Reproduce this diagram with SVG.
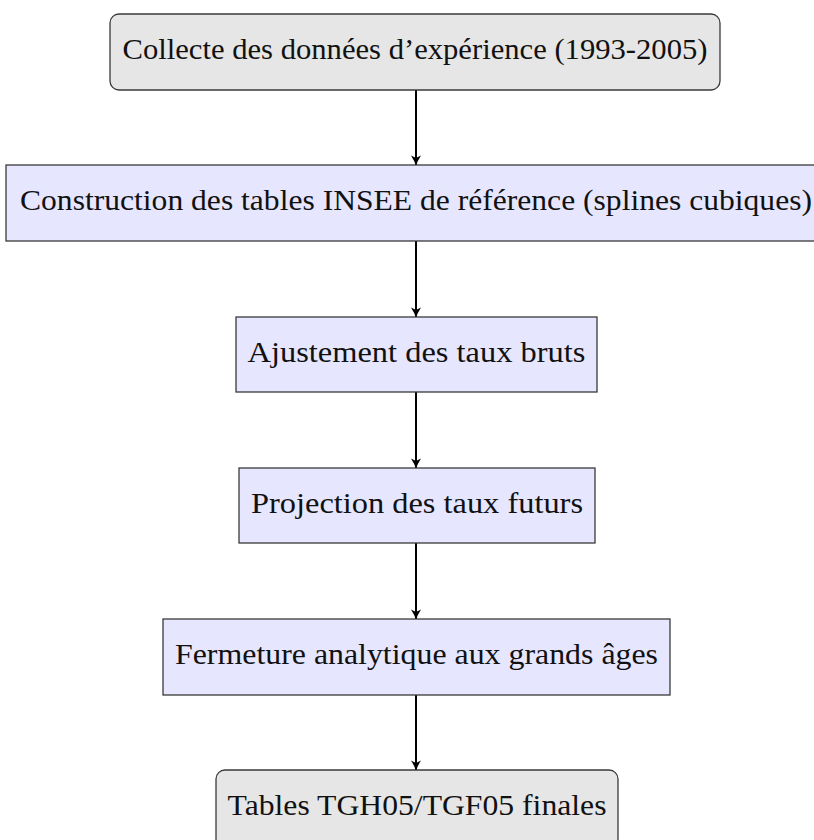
<svg xmlns="http://www.w3.org/2000/svg" width="814" height="840" viewBox="0 0 814 840">
<style>
.n rect{stroke:#3a3a3a;stroke-width:1.3}
.g{fill:#e6e6e6}
.b{fill:#e6e6ff}
text{font-family:"Liberation Serif","Times New Roman",serif;font-size:29px;fill:#111;text-anchor:middle}
.c line{stroke:#000;stroke-width:2;marker-end:url(#ah)}
</style>
<defs>
<marker id="ah" markerWidth="12" markerHeight="12" viewBox="0 0 12 12" refX="10" refY="6" orient="auto" markerUnits="userSpaceOnUse">
<path d="M0.5,1 Q6,4.5 10.5,6 Q6,7.5 0.5,11 L3,6 Z" fill="#000"/>
</marker>
</defs>
<rect width="814" height="840" fill="#fff"/>
<g class="c">
<line x1="416" y1="90" x2="416" y2="165"/>
<line x1="416" y1="241" x2="416" y2="317"/>
<line x1="416" y1="392" x2="416" y2="468"/>
<line x1="416" y1="543" x2="416" y2="619"/>
<line x1="416" y1="695" x2="416" y2="770"/>
</g>
<g id="n1" class="n"><rect class="g" x="110" y="14" width="610" height="76" rx="9"/><text font-family="Liberation Serif, serif" x="415" y="59" textLength="585" lengthAdjust="spacingAndGlyphs">Collecte des données d’expérience (1993-2005)</text></g>
<g id="n2" class="n"><rect class="b" x="6" y="165" width="820" height="76"/><text font-family="Liberation Serif, serif" x="416" y="210" textLength="792" lengthAdjust="spacingAndGlyphs">Construction des tables INSEE de référence (splines cubiques)</text></g>
<g id="n3" class="n"><rect class="b" x="236" y="317" width="361" height="75"/><text font-family="Liberation Serif, serif" x="416.5" y="362" textLength="338" lengthAdjust="spacingAndGlyphs">Ajustement des taux bruts</text></g>
<g id="n4" class="n"><rect class="b" x="239" y="468" width="356" height="75"/><text font-family="Liberation Serif, serif" x="417" y="513" textLength="332" lengthAdjust="spacingAndGlyphs">Projection des taux futurs</text></g>
<g id="n5" class="n"><rect class="b" x="163" y="619" width="507" height="76"/><text font-family="Liberation Serif, serif" x="416.5" y="664" textLength="483" lengthAdjust="spacingAndGlyphs">Fermeture analytique aux grands âges</text></g>
<g id="n6" class="n"><rect class="g" x="216" y="770" width="402" height="78" rx="9"/><text font-family="Liberation Serif, serif" x="417" y="815" textLength="379" lengthAdjust="spacingAndGlyphs">Tables TGH05/TGF05 finales</text></g>
</svg>
